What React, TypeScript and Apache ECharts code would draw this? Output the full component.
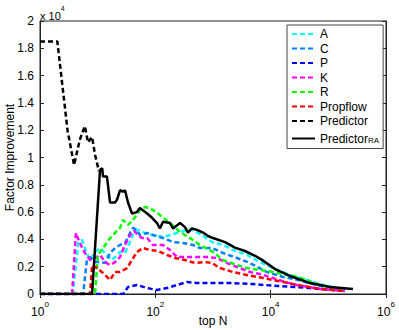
import React, { useEffect, useRef } from 'react';
import * as echarts from 'echarts';

// [topN, factor improvement]
const dataA: number[][] = [[1,0],[3.7,0],[4.6,3740],[5.35,3960],[6.5,3000],[7.4,2490],[9,3080],[11,3370],[14.5,2860],[17.7,2490],[20,2710],[24.4,3080],[29.8,3000],[36.4,3810],[42.7,4540],[50,4690],[66,4470],[91,4320],[136,4180],[180,4320],[268,4540],[399,4760],[595,4400],[960,3810],[1490,3590],[2222,3220],[3884,2860],[6531,2340],[10966,1900],[21627,1390],[32226,1170],[71678,730],[194441,290]];
const dataC: number[][] = [[1,0],[5.6,0],[6.5,2490],[7.4,2710],[9,2340],[11,2340],[13.4,2270],[16.4,3000],[20,3370],[24.4,3590],[29.8,3740],[36.4,4470],[41,4840],[48,4690],[54,4320],[72,4470],[91,4320],[136,4100],[202,3810],[302,3740],[450,3590],[595,3370],[960,3370],[1490,3000],[2607,2640],[4378,2270],[8636,1610],[16355,1250],[29768,1030],[71678,590],[194441,290]];
const dataP: number[][] = [[1,0],[27.5,0],[33.6,510],[48,660],[72,440],[107,290],[159,440],[238,660],[354,880],[528,810],[1000,810],[1972,810],[4800,730],[12900,590],[28590,510],[71678,370],[194441,220]];
const dataK: number[][] = [[1,0],[3.6,0],[4.2,4470],[4.9,3740],[6,3000],[7.4,2490],[9,2640],[11,2860],[13.4,2340],[16.4,2120],[20,2340],[24.4,2710],[29.8,3590],[36.4,4320],[42.7,4620],[50,4320],[58.7,4100],[72,4100],[91,3590],[136,3590],[180,3220],[238,2710],[354,2710],[528,2710],[787,2710],[1172,2640],[1750,2270],[2607,1980],[4378,1610],[6531,1470],[10966,1170],[17711,880],[28590,660],[71678,370],[194441,220]];
const dataR: number[][] = [[1,0],[9,0],[10.1,2860],[12.4,3370],[16.4,4100],[20,4470],[24.4,4840],[27.5,5420],[33.6,5060],[41,5420],[54,6150],[66,6370],[81,6300],[120,5790],[180,5200],[268,4540],[399,4100],[595,3590],[1000,3080],[1490,2490],[2607,2120],[3884,1900],[6531,1760],[10966,1610],[19190,1390],[29768,1250],[71678,660],[194441,290]];
const dataPropflow: number[][] = [[1,0],[7.4,0],[8,2120],[9.7,1900],[12.4,1540],[16.4,1030],[20,1610],[24.4,1610],[32.3,1900],[39.4,2490],[48,3080],[61,3370],[81,3220],[111,3150],[159,2860],[219,2640],[327,2490],[487,2270],[727,2340],[960,2270],[1322,1900],[2222,1610],[3884,1390],[7358,1170],[16355,880],[29768,660],[71678,370],[194441,220]];
const dataPredictor: number[][] = [[1,18500],[2,18500],[3,12000],[3.9,9450],[4.9,11300],[6,12300],[6.8,11100],[8,11500],[9,10200],[10.5,9000]];
const dataPredictorRA: number[][] = [[1,0],[8,0],[11,9100],[12,9200],[12.4,8600],[14.5,8600],[16.4,6700],[20,6700],[21.6,6900],[24.4,7600],[27.5,7500],[29.8,7600],[33.6,6700],[39.4,5900],[48,6000],[54,6300],[72,5900],[87,5600],[107,5200],[120,4800],[136,5300],[180,5200],[202,4800],[268,5200],[327,4900],[368,4500],[432,4800],[528,4700],[671,4500],[819,4250],[1000,4100],[1615,3800],[2400,3400],[3590,3150],[5350,2800],[7070,2500],[11900,1830],[21600,1320],[48000,800],[107000,510],[267000,370]];

const seriesNames = ['A', 'C', 'P', 'K', 'R', 'Propflow', 'Predictor', 'PredictorRA'];
const seriesColors = ['#00ffff', '#0080ff', '#0000ff', '#ff00ff', '#00ff00', '#ff0000', '#000000', '#000000'];
const seriesData = [dataA, dataC, dataP, dataK, dataR, dataPropflow, dataPredictor, dataPredictorRA];
const xTickValues = [1, 100, 10000, 1000000];

const FONT = 'Liberation Sans, Arial, Helvetica, sans-serif';
const AX = '#222';

export default function App() {
  const ref = useRef<HTMLDivElement>(null);
  useEffect(() => {
    const chart = echarts.init(ref.current!, null, { renderer: 'svg' });
    const series = seriesNames.map((name, i) => ({
      name,
      type: 'line',
      data: seriesData[i],
      symbol: 'none',
      showSymbol: false,
      z: 2 + i,
      lineStyle: {
        color: seriesColors[i],
        width: 2.5,
        type: name === 'PredictorRA' ? 'solid' : [5, 3],
      },
      itemStyle: { color: seriesColors[i] },
    }));
    const supLabel = (v: number) => `{b|10}{s|${Math.round(Math.log10(v))}}`;
    const option: any = {
      animation: false,
      textStyle: { fontFamily: FONT },
      grid: { left: 40, right: 13, top: 21, bottom: 36, show: true, borderColor: AX, borderWidth: 1, containLabel: false, outerBoundsMode: 'none' },
      xAxis: [
        {
          type: 'log', logBase: 10, min: 1, max: 1000000,
          name: 'top N', nameLocation: 'middle', nameGap: 21, nameMoveOverlap: false,
          nameTextStyle: { fontSize: 12, color: '#000', fontFamily: FONT },
          axisLine: { show: true, lineStyle: { color: AX } },
          axisTick: { show: true, inside: true, length: 4, lineStyle: { color: AX }, customValues: xTickValues },
          axisLabel: {
            show: true, margin: 6, customValues: xTickValues,
            formatter: supLabel,
            rich: {
              b: { fontSize: 12, color: '#000', fontFamily: FONT, padding: [6, 0, 0, 0] },
              s: { fontSize: 8, color: '#000', fontFamily: FONT, verticalAlign: 'top', padding: [0, 0, 0, 0] },
            },
          },
          splitLine: { show: false }, minorTick: { show: false },
        },
        {
          type: 'log', logBase: 10, min: 1, max: 1000000, position: 'top',
          axisLine: { show: true, lineStyle: { color: AX } },
          axisTick: { show: true, inside: true, length: 4, lineStyle: { color: AX }, customValues: xTickValues },
          axisLabel: { show: false },
          splitLine: { show: false },
        },
      ],
      yAxis: [
        {
          type: 'value', min: 0, max: 20000, interval: 2000,
          name: 'Factor Improvement', nameLocation: 'middle', nameGap: 24, nameMoveOverlap: false,
          nameTextStyle: { fontSize: 12, color: '#000', fontFamily: FONT },
          axisLine: { show: true, lineStyle: { color: AX } },
          axisTick: { show: true, inside: true, length: 4, lineStyle: { color: AX } },
          axisLabel: {
            fontSize: 12, color: '#000', margin: 6, fontFamily: FONT,
            formatter: (v: number) => String(parseFloat((v / 10000).toFixed(1))),
          },
          splitLine: { show: false },
        },
        {
          type: 'value', min: 0, max: 20000, interval: 2000, position: 'right',
          axisLine: { show: true, lineStyle: { color: AX } },
          axisTick: { show: true, inside: true, length: 4, lineStyle: { color: AX } },
          axisLabel: { show: false },
          splitLine: { show: false },
        },
      ],
      legend: {
        show: true,
        orient: 'vertical',
        left: 287, top: 25,
        width: 96,
        padding: [3, 4, 4, 4],
        itemGap: 2.5,
        itemWidth: 23, itemHeight: 12,
        itemStyle: { opacity: 0 },
        backgroundColor: '#fff',
        borderColor: '#444', borderWidth: 1,
        data: seriesNames,
        formatter: (name: string) => (name === 'PredictorRA' ? '{n|Predictor}{sub|RA}' : `{n|${name}}`),
        textStyle: {
          fontSize: 12, color: '#000', fontFamily: FONT,
          rich: {
            n: { fontSize: 12, color: '#000', fontFamily: FONT, lineHeight: 12 },
            sub: { fontSize: 8, color: '#000', fontFamily: FONT, verticalAlign: 'bottom', padding: [7, 0, 0, 0], lineHeight: 12 },
          },
        },
      },
      graphic: [
        {
          type: 'text', left: 40, top: 5,
          style: {
            text: '{a|x 10}{b|4}',
            rich: {
              a: { fontSize: 11, fill: '#000', fontFamily: FONT, padding: [5, 0, 0, 0] },
              b: { fontSize: 7, fill: '#000', fontFamily: FONT, verticalAlign: 'top' },
            },
          },
        },
      ],
      series,
    };
    chart.setOption(option);
    return () => chart.dispose();
  }, []);
  return <div ref={ref} style={{ position: 'fixed', left: 0, top: 0, width: 399, height: 330, background: '#fff' }} />;
}
